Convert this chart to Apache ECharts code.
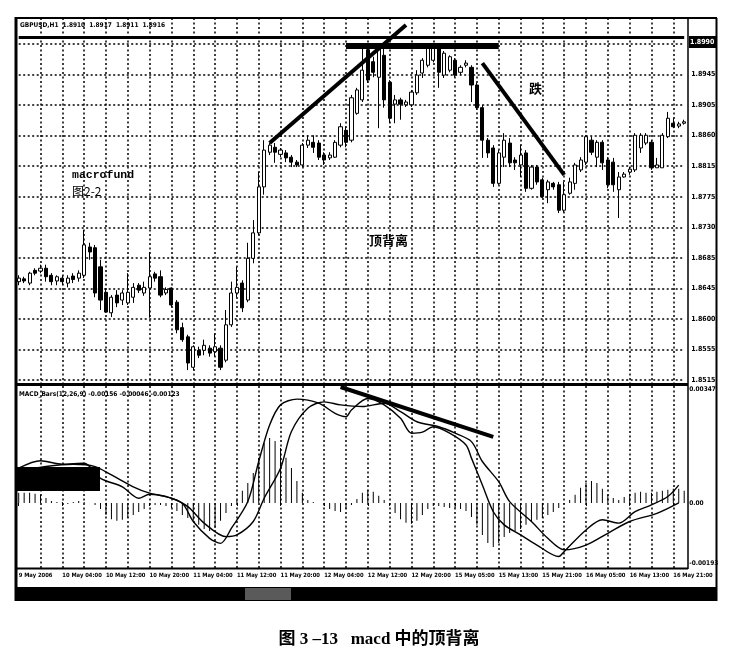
<!DOCTYPE html>
<html><head><meta charset="utf-8">
<script src="https://cdn.jsdelivr.net/npm/echarts@6/dist/echarts.min.js"></script>
<style>html,body{margin:0;padding:0;background:#fff}#c{width:733px;height:672px}</style>
</head><body><div id="c"></div><script>
// ---------- categories (hourly bars, weekend skipped) ----------
const categories = [];
function pushHours(day, from, to) { for (let h = from; h <= to; h++) categories.push(day + ' May ' + String(h).padStart(2, '0') + ':00'); }
pushHours(9, 20, 23); pushHours(10, 0, 23); pushHours(11, 0, 23); pushHours(12, 0, 22); pushHours(15, 0, 23); pushHours(16, 0, 23);
const firstTickLabel = '9 May 2006';

// ---------- axis tick labels ----------
const priceTickLabels = ['1.8515','1.8555','1.8600','1.8645','1.8685','1.8730','1.8775','1.8815','1.8860','1.8905','1.8945','1.8990'];
const macdTickLabels = ['0.00347', '0.00', '-0.00193'];

// ---------- OHLC ----------
const opens = [1.8654,1.8658,1.8652,1.8670,1.8669,1.8673,1.8663,1.8655,1.8659,1.8652,1.8662,1.8659,1.8663,1.8703,1.8702,1.8675,1.8639,1.8610,1.8635,1.8628,1.8624,1.8632,1.8649,1.8638,1.8645,1.8665,1.8661,1.8638,1.8645,1.8625,1.8589,1.8576,1.8533,1.8557,1.8557,1.8560,1.8555,1.8560,1.8543,1.8593,1.8638,1.8652,1.8628,1.8687,1.8723,1.8788,1.8837,1.8844,1.8834,1.8836,1.8830,1.8823,1.8819,1.8847,1.8851,1.8850,1.8833,1.8829,1.8830,1.8847,1.8868,1.8854,1.8892,1.8911,1.8982,1.8965,1.8943,1.8974,1.8936,1.8905,1.8911,1.8904,1.8904,1.8921,1.8949,1.8960,1.8967,1.8984,1.8946,1.8953,1.8967,1.8950,1.8960,1.8957,1.8932,1.8900,1.8854,1.8843,1.8793,1.8830,1.8850,1.8826,1.8819,1.8836,1.8786,1.8816,1.8798,1.8784,1.8793,1.8791,1.8755,1.8779,1.8793,1.8812,1.8823,1.8854,1.8830,1.8851,1.8826,1.8823,1.8784,1.8802,1.8809,1.8812,1.8843,1.8850,1.8851,1.8815,1.8815,1.8859,1.8878,1.8874,1.8878];
const closes = [1.8659,1.8655,1.8666,1.8666,1.8673,1.8661,1.8654,1.8661,1.8654,1.8659,1.8657,1.8666,1.8706,1.8696,1.8638,1.8628,1.8611,1.8632,1.8624,1.8638,1.8639,1.8646,1.8642,1.8646,1.8661,1.8659,1.8635,1.8643,1.8621,1.8586,1.8572,1.8539,1.8562,1.8550,1.8564,1.8553,1.8562,1.8533,1.8593,1.8638,1.8646,1.8617,1.8687,1.8723,1.8788,1.8840,1.8847,1.8837,1.8840,1.8829,1.8823,1.8819,1.8847,1.8854,1.8844,1.8830,1.8826,1.8833,1.8851,1.8873,1.8851,1.8914,1.8925,1.8953,1.8939,1.8950,1.8986,1.8911,1.8885,1.8911,1.8905,1.8908,1.8922,1.8946,1.8967,1.8986,1.8984,1.8950,1.8977,1.8972,1.8946,1.8957,1.8963,1.8932,1.8900,1.8854,1.8836,1.8793,1.8836,1.8854,1.8822,1.8822,1.8833,1.8786,1.8816,1.8795,1.8774,1.8795,1.8788,1.8755,1.8777,1.8795,1.8819,1.8826,1.8859,1.8837,1.8851,1.8822,1.8791,1.8791,1.8802,1.8806,1.8813,1.8861,1.8861,1.8861,1.8815,1.8819,1.8861,1.8885,1.8873,1.8877,1.8880];
const lows = [1.8649,1.8652,1.8649,1.8663,1.8666,1.8654,1.8649,1.8649,1.8649,1.8646,1.8652,1.8654,1.8659,1.8685,1.8632,1.8614,1.8610,1.8604,1.8618,1.8621,1.8621,1.8624,1.8638,1.8634,1.8603,1.8654,1.8632,1.8635,1.8618,1.8581,1.8569,1.8529,1.8529,1.8546,1.8550,1.8548,1.8548,1.8529,1.8540,1.8590,1.8632,1.8611,1.8625,1.8680,1.8720,1.8777,1.8833,1.8822,1.8830,1.8823,1.8816,1.8816,1.8816,1.8843,1.8836,1.8826,1.8819,1.8826,1.8829,1.8844,1.8844,1.8851,1.8890,1.8908,1.8935,1.8943,1.8871,1.8900,1.8878,1.8878,1.8883,1.8901,1.8901,1.8918,1.8942,1.8957,1.8964,1.8928,1.8942,1.8950,1.8943,1.8946,1.8957,1.8908,1.8897,1.8829,1.8829,1.8788,1.8791,1.8816,1.8816,1.8812,1.8802,1.8781,1.8784,1.8791,1.8772,1.8765,1.8784,1.8751,1.8752,1.8777,1.8784,1.8809,1.8819,1.8833,1.8816,1.8812,1.8786,1.8781,1.8744,1.8801,1.8805,1.8809,1.8836,1.8847,1.8812,1.8815,1.8815,1.8857,1.8871,1.8871,1.8876];
const highs = [1.8663,1.8661,1.8668,1.8673,1.8678,1.8678,1.8666,1.8663,1.8663,1.8663,1.8666,1.8670,1.8727,1.8709,1.8706,1.8685,1.8645,1.8635,1.8642,1.8642,1.8666,1.8652,1.8652,1.8654,1.8696,1.8668,1.8670,1.8646,1.8646,1.8628,1.8596,1.8579,1.8564,1.8562,1.8572,1.8564,1.8581,1.8564,1.8614,1.8654,1.8675,1.8656,1.8709,1.8741,1.8809,1.8854,1.8850,1.8850,1.8843,1.8840,1.8833,1.8826,1.8850,1.8861,1.8861,1.8854,1.8837,1.8837,1.8854,1.8878,1.8873,1.8918,1.8928,1.8986,1.8989,1.8972,1.8989,1.8984,1.8939,1.8918,1.8914,1.8911,1.8925,1.8953,1.8970,1.8989,1.8989,1.8987,1.8980,1.8974,1.8970,1.8960,1.8967,1.8960,1.8935,1.8904,1.8857,1.8847,1.8840,1.8864,1.8857,1.8830,1.8847,1.8840,1.8819,1.8819,1.8801,1.8798,1.8795,1.8795,1.8795,1.8801,1.8822,1.8830,1.8861,1.8859,1.8854,1.8854,1.8830,1.8829,1.8809,1.8809,1.8816,1.8864,1.8864,1.8864,1.8854,1.8829,1.8864,1.8894,1.8885,1.8880,1.8883];

// ---------- MACD ----------
const histogram = [0.00030,0.00030,0.00030,0.00027,0.00024,0.00015,0.00006,0.00003,0.00003,-0.00003,0.00003,0.00006,0.00003,0,-0.00006,-0.00018,-0.00036,-0.00048,-0.00053,-0.00050,-0.00045,-0.00036,-0.00027,-0.00018,-0.00009,-0.00006,-0.00006,-0.00009,-0.00015,-0.00024,-0.00036,-0.00045,-0.00053,-0.00065,-0.00077,-0.00083,-0.00074,-0.00053,-0.00030,-0.00009,0.00009,0.00036,0.00059,0.00089,0.00134,0.00178,0.00193,0.00184,0.00163,0.00134,0.00104,0.00065,0.00030,0.00009,0.00003,0,-0.00009,-0.00018,-0.00024,-0.00027,-0.00018,-0.00006,0.00012,0.00030,0.00039,0.00033,0.00021,0.00009,-0.00009,-0.00030,-0.00048,-0.00059,-0.00062,-0.00053,-0.00036,-0.00018,-0.00009,-0.00009,-0.00012,-0.00015,-0.00015,-0.00018,-0.00024,-0.00042,-0.00065,-0.00095,-0.00119,-0.00131,-0.00119,-0.00101,-0.00089,-0.00083,-0.00077,-0.00065,-0.00056,-0.00050,-0.00045,-0.00036,-0.00027,-0.00015,-0.00003,0.00009,0.00024,0.00045,0.00059,0.00065,0.00059,0.00042,0.00024,0.00015,0.00009,0.00018,0.00027,0.00030,0.00033,0.00030,0.00030,0.00033,0.00036,0.00039,0.00042,0.00042,0.00036];
const macdMain = [[0,0.00103],[4,0.00125],[8,0.00115],[12,0.00118],[15,0.00073],[19,0.00048],[22,0.00014],[24,0.00026],[27,0.00019],[30,-0.00001],[32,-0.00055],[35,-0.00105],[37,-0.0012],[39,-0.00075],[42,0.00004],[44,0.00123],[46,0.00231],[48,0.00291],[51,0.00308],[55,0.00296],[58,0.00266],[60,0.00256],[61,0.00276],[64,0.0031],[67,0.00291],[70,0.00251],[72,0.00207],[74,0.0021],[76,0.00226],[79,0.00207],[82,0.00172],[83,0.00133],[85,0.00053],[87,-0.00026],[89,-0.00065],[92,-0.00095],[95,-0.00125],[99,-0.00159],[100,-0.00144],[104,-0.0008],[107,-0.0005],[110,-0.0006],[113,-0.00026],[116,-0.00006],[119,0.00019],[121,0.00053]];
const macdSignal = [[0,0.00093],[5,0.00108],[10,0.00115],[14,0.00108],[17,0.00083],[21,0.00048],[24,0.00029],[28,0.00014],[31,-0.00011],[34,-0.0006],[38,-0.001],[40,-0.00095],[43,-0.00055],[45,0.00014],[48,0.00103],[50,0.00212],[53,0.00281],[56,0.003],[59,0.00291],[63,0.00286],[67,0.00296],[70,0.00271],[73,0.00241],[77,0.00226],[80,0.00207],[83,0.00182],[85,0.00123],[88,0.00063],[90,0.00004],[94,-0.00055],[97,-0.00105],[100,-0.00139],[104,-0.00125],[108,-0.0009],[112,-0.00055],[117,-0.00031],[121,0]];

// ---------- annotation lines (data coordinates) ----------
const upTrend = [[46, 1.8850], [71, 1.9017]];
const topLine = [[60, 1.8988], [88, 1.8988]];
const downTrend = [[85, 1.8963], [100, 1.8805]];
const macdTrend = [[59, 0.00344], [87, 0.00196]];
const currentLine = 1.8990;

// ---------- layout ----------
const priceBase = 1.8515, priceTop = 1.8990, priceSteps = 11;
const priceStep = (priceTop - priceBase) / priceSteps;
const priceTickVals = priceTickLabels.map((_, i) => priceBase + i * priceStep);
const macdTickVals = [0.00336, 0, -0.00180];
const pxPerUnit = 336 / (priceTop - priceBase);
const priceMax = priceTop + 26 / pxPerUnit, priceMin = priceBase - 4 / pxPerUnit;

const FONT = '"DejaVu Sans Condensed", "Liberation Sans Narrow", "Liberation Sans", sans-serif';
const dotted = { color: '#000', width: 1.5, type: [2, 2.5] };
const L = 18.7, W = 665.5;

const chart = echarts.init(document.getElementById('c'));
chart.setOption({
  animation: false,
  backgroundColor: '#fff',
  grid: [
    { left: L, width: W, top: 18, height: 366 },
    { left: L, width: W, top: 386, height: 182 }
  ],
  xAxis: [
    { type: 'category', gridIndex: 0, data: categories, boundaryGap: false,
      axisLine: { show: false }, axisTick: { show: false }, axisLabel: { show: false },
      splitLine: { show: true, interval: (i) => i > 0 && i % 4 === 0, lineStyle: dotted } },
    { type: 'category', gridIndex: 1, data: categories, boundaryGap: false,
      axisLine: { show: false },
      axisTick: { show: true, interval: (i) => i % 8 === 0, length: 3, lineStyle: { color: '#000', width: 1 } },
      axisLabel: { show: true, interval: (i) => i % 8 === 0, align: 'left', margin: 4, hideOverlap: false,
        formatter: (v, i) => (i === 0 ? firstTickLabel : v),
        fontSize: 5.8, fontWeight: 'bold', color: '#000', fontFamily: FONT },
      splitLine: { show: true, interval: (i) => i > 0 && i % 4 === 0, lineStyle: dotted } }
  ],
  yAxis: [
    { type: 'value', gridIndex: 0, position: 'right', min: priceMin, max: priceMax,
      axisLine: { show: false },
      axisTick: { show: false, customValues: priceTickVals },
      axisLabel: { customValues: priceTickVals, margin: 7, fontSize: 7, fontWeight: 'bold', color: '#000', fontFamily: FONT,
        formatter: (v) => priceTickLabels[Math.round((v - priceBase) / priceStep)] || '' },
      splitLine: { show: true, lineStyle: dotted } },
    { type: 'value', gridIndex: 1, position: 'right', min: -0.00193, max: 0.00347,
      axisLine: { show: false },
      axisTick: { show: false, customValues: macdTickVals },
      axisLabel: { customValues: macdTickVals, margin: 5, fontSize: 6.5, fontWeight: 'bold', color: '#000', fontFamily: FONT,
        formatter: (v) => { let b = 0; macdTickVals.forEach((t, i) => { if (Math.abs(t - v) < Math.abs(macdTickVals[b] - v)) b = i; }); return macdTickLabels[b]; } },
      splitLine: { show: false } }
  ],
  series: [
    { type: 'candlestick', xAxisIndex: 0, yAxisIndex: 0, clip: false, barWidth: 3.6,
      data: opens.map((o, i) => [o, closes[i], lows[i], highs[i]]),
      itemStyle: { color: '#fff', color0: '#000', borderColor: '#000', borderColor0: '#000', borderWidth: 1 },
      markLine: { silent: true, symbol: 'none', animation: false, label: { show: false },
        lineStyle: { color: '#000', width: 4, type: 'solid' },
        data: [
          [{ coord: upTrend[0] }, { coord: upTrend[1] }],
          [{ coord: topLine[0], lineStyle: { width: 6 } }, { coord: topLine[1] }],
          [{ coord: downTrend[0] }, { coord: downTrend[1] }],
          { yAxis: currentLine, lineStyle: { width: 3 } }
        ] } },
    { type: 'bar', xAxisIndex: 1, yAxisIndex: 1, data: histogram, barWidth: 1,
      itemStyle: { color: '#000' },
      markLine: { silent: true, symbol: 'none', animation: false, label: { show: false },
        lineStyle: { color: '#000', width: 4, type: 'solid' },
        data: [[{ coord: macdTrend[0] }, { coord: macdTrend[1] }]] } },
    { type: 'line', xAxisIndex: 1, yAxisIndex: 1, data: macdMain, smooth: 0.3, symbol: 'none',
      lineStyle: { color: '#000', width: 1.4 } },
    { type: 'line', xAxisIndex: 1, yAxisIndex: 1, data: macdSignal, smooth: 0.3, symbol: 'none',
      lineStyle: { color: '#000', width: 1.4 } }
  ],
  graphic: [
    { type: 'rect', z: 100, shape: { x: 14.5, y: 17, width: 3, height: 584 }, style: { fill: '#000' } },
    { type: 'line', z: 100, shape: { x1: 15, y1: 18, x2: 717, y2: 18 }, style: { stroke: '#000', lineWidth: 2 } },
    { type: 'line', z: 100, shape: { x1: 688, y1: 18, x2: 688, y2: 569 }, style: { stroke: '#000', lineWidth: 1.5 } },
    { type: 'line', z: 100, shape: { x1: 716.5, y1: 18, x2: 716.5, y2: 601 }, style: { stroke: '#000', lineWidth: 2 } },
    { type: 'rect', z: 100, shape: { x: 15, y: 383, width: 673, height: 3 }, style: { fill: '#000' } },
    { type: 'line', z: 100, shape: { x1: 15, y1: 568.5, x2: 688, y2: 568.5 }, style: { stroke: '#000', lineWidth: 2 } },
    { type: 'rect', z: 100, shape: { x: 15, y: 587, width: 702, height: 14 }, style: { fill: '#000' } },
    { type: 'rect', z: 101, shape: { x: 245, y: 588, width: 46, height: 12 }, style: { fill: '#5a5a5a' } },
    { type: 'rect', z: 100, shape: { x: 17, y: 467, width: 83, height: 24 }, style: { fill: '#000' } },
    { type: 'rect', z: 100, shape: { x: 689, y: 36, width: 27, height: 12 }, style: { fill: '#000' } },
    { type: 'text', z: 101, x: 690, y: 42, style: { text: '1.8990', font: 'bold 7px ' + FONT, fill: '#fff', verticalAlign: 'middle' } },
    { type: 'text', z: 100, x: 20, y: 25, style: { text: 'GBPUSD,H1  1.8910  1.8917  1.8911  1.8916', font: 'bold 6.5px ' + FONT, fill: '#000', verticalAlign: 'middle' } },
    { type: 'text', z: 100, x: 19, y: 394, style: { text: 'MACD_Bars(12,26,9) -0.00156 -0.00046 -0.00123', font: 'bold 6.5px ' + FONT, fill: '#000', verticalAlign: 'middle' } },
    { type: 'text', z: 100, x: 72, y: 175, style: { text: 'macrofund', font: 'bold 11.5px "Liberation Mono", "DejaVu Sans Mono", monospace', fill: '#000', verticalAlign: 'middle' } },
    { type: 'text', z: 100, x: 72, y: 191, style: { text: '图2-2', font: '12px "Noto Sans CJK SC", sans-serif', fill: '#000', verticalAlign: 'middle' } },
    { type: 'text', z: 100, x: 369, y: 240, style: { text: '顶背离', font: 'bold 13px "Noto Sans CJK SC", sans-serif', fill: '#000', verticalAlign: 'middle' } },
    { type: 'text', z: 100, x: 529, y: 88, style: { text: '跌', font: 'bold 13px "Noto Sans CJK SC", sans-serif', fill: '#000', verticalAlign: 'middle' } },
    { type: 'text', z: 100, x: 379, y: 640, style: { text: '图 3 –13   macd 中的顶背离', font: 'bold 17px "Liberation Serif", "Noto Sans CJK SC", serif', fill: '#000', align: 'center', verticalAlign: 'middle' } }
  ]
});
</script></body></html>
